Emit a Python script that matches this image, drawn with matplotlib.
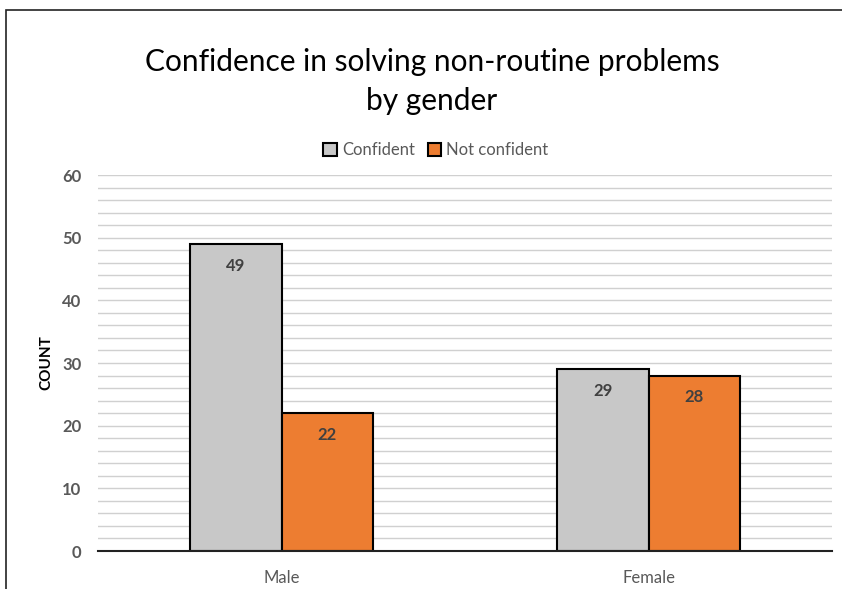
import matplotlib
matplotlib.use("Agg")
import matplotlib.pyplot as plt
import numpy as np
from matplotlib.patches import Rectangle

categories = ["Male", "Female"]
series_names = ["Confident", "Not confident"]
confident = [49, 29]
not_confident = [22, 28]
yticks = [0, 10, 20, 30, 40, 50, 60]

colors = ["#C8C8C8", "#ED7D31"]
plt.rcParams['font.family'] = ['Lato', 'DejaVu Sans']

fig = plt.figure(figsize=(8.42, 5.89), dpi=100)
ax = fig.add_axes([98/842, 1-551/589, 734/842, 376/589])

x = np.arange(len(categories))
w = 0.25
for i, (vals, name) in enumerate(zip([confident, not_confident], series_names)):
    bars = ax.bar(x + (i - 0.5) * w, vals, width=w, color=colors[i], edgecolor="black",
                  linewidth=1.5, label=name, zorder=3)
    for b, v in zip(bars, vals):
        ax.text(b.get_x() + b.get_width()/2, v - 2.2, str(v), ha="center", va="top",
                fontsize=12, fontweight="bold", color="#404040", zorder=4)

ax.set_xlim(-0.5, 1.5)
ax.set_ylim(0, 60)
ax.set_yticks(yticks)
ax.set_yticks(np.arange(0, 61, 2), minor=True)
ax.tick_params(axis="y", which="both", length=0, pad=12, labelsize=12, labelcolor="#595959")
for lab in ax.get_yticklabels():
    lab.set_fontweight("bold")
ax.set_xticks(x)
ax.set_xticklabels(categories, fontsize=12, color="#595959")
ax.tick_params(axis="x", length=0, pad=14)
ax.grid(axis="y", which="both", color="#D0D0D0", linewidth=1.0, zorder=0)
ax.set_axisbelow(True)
for s in ["top", "right", "left"]:
    ax.spines[s].set_visible(False)
ax.spines["bottom"].set_color("#222222")
ax.spines["bottom"].set_linewidth(1.5)
ax.spines["bottom"].set_zorder(5)
ax.set_ylabel("COUNT", fontsize=11, fontweight="bold", color="black", labelpad=6)

fig.text(432/842, 1-62/589, "Confidence in solving non-routine problems", ha="center", va="center",
         fontsize=21.5, color="black")
fig.text(432/842, 1-101/589, "by gender", ha="center", va="center", fontsize=21.5, color="black")

handles, labels = ax.get_legend_handles_labels()
fig.legend(handles, labels, loc="center", bbox_to_anchor=(436/842, 1-150/589), ncol=2,
           frameon=False, fontsize=12, handlelength=0.8, handleheight=0.8, handletextpad=0.3,
           columnspacing=0.8, labelcolor="#595959")

fig.add_artist(Rectangle((6/842, -0.1), 1.2, (1-10/589) + 0.1, transform=fig.transFigure,
                         fill=False, edgecolor="#222222", linewidth=1.2))

fig.savefig("out.png", dpi=100, facecolor="white")
